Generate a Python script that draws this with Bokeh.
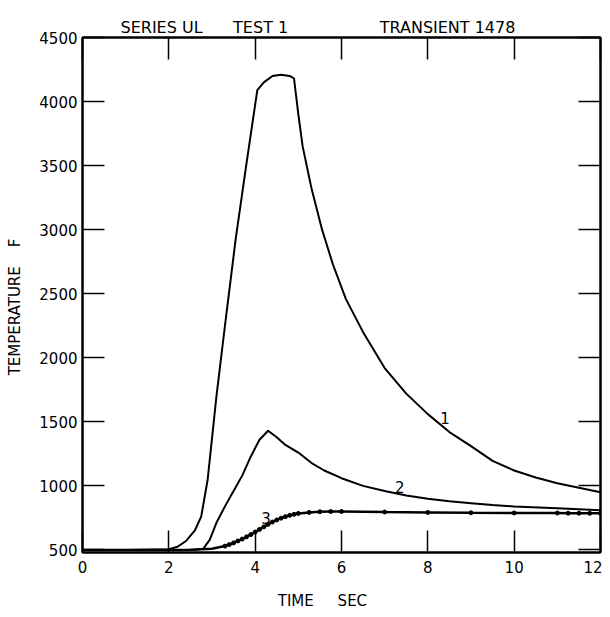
from bokeh.plotting import figure
from bokeh.models import LinearAxis, FixedTicker, Range1d, Title
from bokeh.core.properties import value
from bokeh.embed import file_html
from bokeh.resources import INLINE

# ---- data ----
t1 = [0, 1, 2, 2.2, 2.4, 2.6, 2.75, 2.9, 3.1, 3.3, 3.55, 3.8, 4.05, 4.2, 4.4, 4.6,
      4.8, 4.9, 5.0, 5.1, 5.3, 5.55, 5.8, 6.1, 6.5, 7.0, 7.5, 8.0, 8.5, 9.0, 9.5,
      10, 10.5, 11, 11.5, 12]
v1 = [500, 500, 505, 525, 570, 650, 760, 1050, 1690, 2250, 2930, 3520, 4090, 4150,
      4200, 4210, 4200, 4180, 3900, 3650, 3330, 3000, 2730, 2460, 2200, 1920, 1720,
      1560, 1420, 1310, 1195, 1120, 1065, 1020, 985, 950]

t2 = [0, 1, 2, 2.6, 2.8, 2.95, 3.1, 3.3, 3.5, 3.7, 3.9, 4.1, 4.3, 4.5, 4.7, 5.0,
      5.3, 5.6, 6.0, 6.5, 7.0, 7.5, 8.0, 8.5, 9, 9.5, 10, 11, 12]
v2 = [500, 500, 500, 502, 510, 580, 710, 840, 960, 1080, 1230, 1360, 1430, 1380,
      1320, 1260, 1180, 1120, 1060, 1000, 960, 925, 900, 880, 865, 850, 840, 825, 810]

t3 = [0, 1, 2, 2.5, 3.0, 3.3, 3.4, 3.5, 3.6, 3.7, 3.8, 3.9, 4.0, 4.1, 4.2, 4.3, 4.4,
      4.5, 4.6, 4.7, 4.8, 4.9, 5.0, 5.25, 5.5, 5.75, 6.0, 7, 8, 9, 10, 11, 11.25,
      11.5, 11.75, 12]
v3 = [500, 500, 500, 502, 510, 530, 542, 555, 570, 585, 602, 620, 640, 660, 680, 700,
      718, 734, 748, 760, 770, 778, 785, 793, 798, 800, 800, 796, 793, 790, 789, 788,
      787, 787, 786, 786]
marker_from = 5  # markers are plotted from t = 3.3 on

curve_labels = ["1", "2", "3"]
label_t = [8.4, 7.35, 4.25]
label_v = [1530, 990, 750]

x_ticks = [0, 2, 4, 6, 8, 10, 12]
y_ticks = [500, 1000, 1500, 2000, 2500, 3000, 3500, 4000, 4500]

NB = "\u00a0"
title_text = "SERIES UL" + NB * 6 + "TEST 1" + NB * 18 + "TRANSIENT 1478"
x_label = "TIME" + NB * 5 + "SEC" + NB * 8
y_label = "TEMPERATURE" + NB * 4 + "F" + NB * 5

FONT = "DejaVu Sans"

p = figure(width=602, height=614, output_backend="svg", toolbar_location=None,
           x_range=Range1d(0, 12), y_range=Range1d(480, 4500),
           min_border_left=82, min_border_right=2, min_border_top=37,
           min_border_bottom=62, background_fill_color="white",
           border_fill_color="white")
p.grid.visible = False
p.outline_line_color = "black"
p.outline_line_width = 2

def style_axis(ax, ticks, labels=True):
    ax.ticker = FixedTicker(ticks=ticks)
    ax.axis_line_color = "black"
    ax.axis_line_width = 2
    ax.major_tick_in = 22
    ax.major_tick_out = 0
    ax.major_tick_line_width = 1.5
    ax.major_tick_line_color = "black"
    ax.minor_tick_line_color = None
    ax.major_label_text_font = FONT
    ax.major_label_text_font_size = "15px"
    ax.major_label_text_color = "black"
    ax.axis_label_text_font = FONT
    ax.axis_label_text_font_size = "15px"
    ax.axis_label_text_font_style = "normal"
    ax.axis_label_text_color = "black"
    if not labels:
        ax.major_label_overrides = {t: "" for t in ticks}
        ax.major_label_standoff = 0

style_axis(p.xaxis[0], x_ticks)
style_axis(p.yaxis[0], y_ticks)
p.xaxis.major_label_standoff = 8
p.yaxis.major_label_standoff = 5
p.xaxis.axis_label = x_label
p.xaxis.axis_label_standoff = 16
p.yaxis.axis_label = y_label
p.yaxis.axis_label_standoff = 12

ra = LinearAxis()
style_axis(ra, y_ticks, labels=False)
p.add_layout(ra, "right")
ta = LinearAxis()
style_axis(ta, x_ticks, labels=False)
p.add_layout(ta, "above")

p.add_layout(Title(text=title_text, align="left", offset=38, text_font=FONT,
                   text_font_size="16px", text_font_style="normal",
                   text_color="black", standoff=2), "above")

p.line(t1, v1, line_color="black", line_width=2)
p.line(t2, v2, line_color="black", line_width=2)
p.line(t3, v3, line_color="black", line_width=2.5)
p.scatter(t3[marker_from:], v3[marker_from:], size=4, color="black")

p.text(label_t, label_v, text=curve_labels, text_font=value(FONT),
       text_font_size="15px", text_align="center", text_baseline="middle",
       text_color="black")

open("out.html", "w").write(file_html(p, INLINE))
